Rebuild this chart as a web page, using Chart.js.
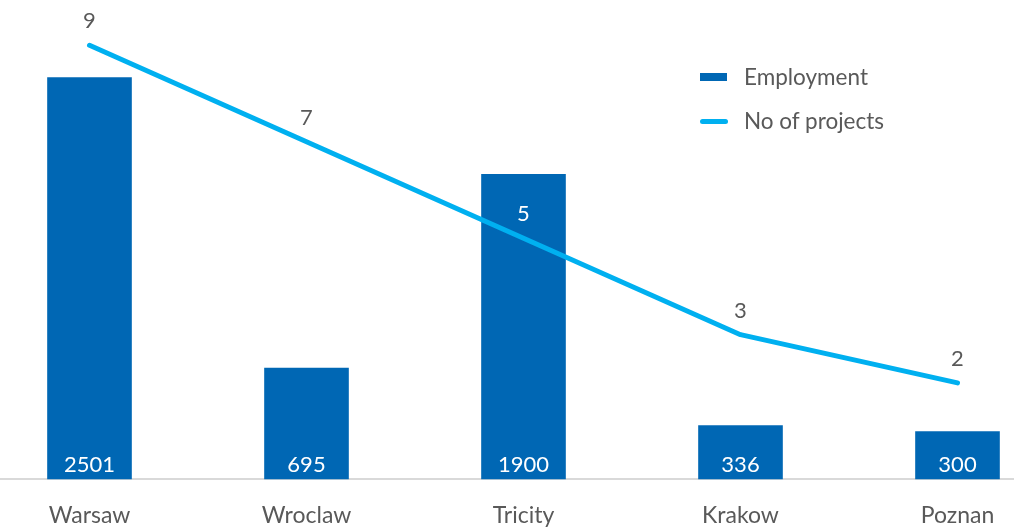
<!DOCTYPE html>
<html>
<head>
<meta charset="utf-8">
<script src="https://cdn.jsdelivr.net/npm/chart.js@4"></script>
<style>
    html, body { margin: 0; padding: 0; background: #fff; overflow: hidden; }
    #wrap { position: relative; width: 1014px; height: 528px; overflow: hidden; }
    #chart { position: absolute; left: -19px; top: -3px; }
    #legend { position: absolute; left: 700px; top: 62px; font-family: Lato, sans-serif; font-size: 22.5px; color: #595959; }
    .leg-row { display: flex; align-items: center; height: 30px; line-height: 30px; margin-bottom: 14px; }
    .leg-box { width: 27px; height: 8px; background: #0067b4; margin-right: 17px; }
    .leg-line { width: 28px; height: 5px; border-radius: 3px; background: #00b0f0; margin-right: 16px; }
</style>
</head>
<body>
<div id="wrap">
    <canvas id="chart" width="1085" height="554"></canvas>
    <div id="legend">
        <div class="leg-row"><span class="leg-box"></span>Employment</div>
        <div class="leg-row"><span class="leg-line"></span>No of projects</div>
    </div>
</div>
<script>
const cities = ['Warsaw', 'Wroclaw', 'Tricity', 'Krakow', 'Poznan'];
const employment = [2501, 695, 1900, 336, 300];
const projects = [9, 7, 5, 3, 2];

const barColor = '#0067b4';
const lineColor = '#00b0f0';
const textColor = '#595959';

// draws value labels: inside bottom of bars, above line points
const valueLabels = {
    id: 'valueLabels',
    afterDatasetsDraw(chart) {
        const ctx = chart.ctx;
        const bars = chart.getDatasetMeta(0).data;
        const points = chart.getDatasetMeta(1).data;
        ctx.save();
        ctx.font = '22px Lato';
        ctx.textAlign = 'center';
        ctx.textBaseline = 'middle';

        bars.forEach(function(bar, i) {
            ctx.fillStyle = '#ffffff';
            ctx.fillText(employment[i], bar.x, bar.base - 14);
        });

        points.forEach(function(pt, i) {
            let ly = pt.y - 24;
            let bar = bars[i];
            let half = bar.width / 2;
            let inside = ly > bar.y && pt.x > bar.x - half && pt.x < bar.x + half;
            ctx.fillStyle = inside ? '#ffffff' : textColor;
            ctx.fillText(projects[i], pt.x, ly);
        });
        ctx.restore();
    }
};

var chrt = document.getElementById('chart').getContext('2d');
var chartId = new Chart(chrt, {
    data: {
        labels: cities,
        datasets: [{
            type: 'bar',
            label: 'Employment',
            data: employment,
            backgroundColor: barColor,
            barPercentage: 0.39,
            categoryPercentage: 1,
            yAxisID: 'y',
            order: 1
        }, {
            type: 'line',
            label: 'No of projects',
            data: projects,
            borderColor: lineColor,
            borderWidth: 5,
            borderCapStyle: 'round',
            borderJoinStyle: 'round',
            pointRadius: 0,
            tension: 0,
            yAxisID: 'y1',
            order: 0
        }]
    },
    options: {
        responsive: false,
        animation: false,
        layout: {
            padding: 0
        },
        plugins: {
            legend: { display: false },
            tooltip: { enabled: false }
        },
        scales: {
            x: {
                grid: { display: false, drawTicks: false },
                border: { display: true, color: '#d9d9d9', width: 2 },
                ticks: {
                    color: textColor,
                    font: { family: 'Lato', size: 23 },
                    padding: 22
                }
            },
            y: {
                display: false,
                min: 0,
                max: 3000
            },
            y1: {
                display: false,
                position: 'right',
                min: 0,
                max: 10
            }
        }
    },
    plugins: [valueLabels]
});
</script>
</body>
</html>
